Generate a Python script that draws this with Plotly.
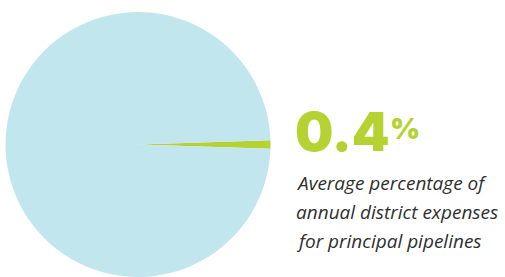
import plotly.graph_objects as go

# Data
slice_labels = ["Principal pipelines", "Other district expenses"]
slice_values = [1.0, 99.0]          # share as drawn in the picture
slice_colors = ["#b5d232", "#c2e6ee"]
headline_value = "0.4"
headline_unit = "%"
caption_lines = ["Average percentage of", "annual district expenses", "for principal pipelines"]

W, H = 505, 277
# slice centred on 3 o'clock
rotation = 90 - slice_values[0] / sum(slice_values) * 360 / 2

fig = go.Figure(go.Pie(
    labels=slice_labels,
    values=slice_values,
    marker=dict(colors=slice_colors, line=dict(width=0)),
    sort=False,
    direction="clockwise",
    rotation=rotation,
    textinfo="none",
    hoverinfo="label+percent",
    domain=dict(x=[5 / W, 271 / W], y=[0, 265 / H]),
    showlegend=False,
))

fig.add_annotation(
    x=294 / W, y=(H - 165) / H, xref="paper", yref="paper",
    xanchor="left", yanchor="bottom", showarrow=False, borderpad=0,
    text=headline_value,
    font=dict(family="Inter", size=54, color="#b5d232", weight=900),
)
fig.add_annotation(
    x=389 / W, y=(H - 147) / H, xref="paper", yref="paper",
    xanchor="left", yanchor="bottom", showarrow=False, borderpad=0,
    text=headline_unit,
    font=dict(family="Inter", size=29, color="#b5d232", weight=900),
)
for i, line in enumerate(caption_lines):
    fig.add_annotation(
        x=294 / W, y=(H - 183 - i * 29) / H, xref="paper", yref="paper",
        xanchor="left", yanchor="middle", showarrow=False,
        text="<i>" + line + "</i>",
        font=dict(family="Open Sans", size=19, color="#2f2f2f"),
    )

fig.update_layout(
    width=W, height=H,
    margin=dict(l=0, r=0, t=0, b=0),
    paper_bgcolor="white", plot_bgcolor="white",
)
fig.write_html("out.html", config={"displayModeBar": False},
               post_script="document.body.style.margin='0';")
